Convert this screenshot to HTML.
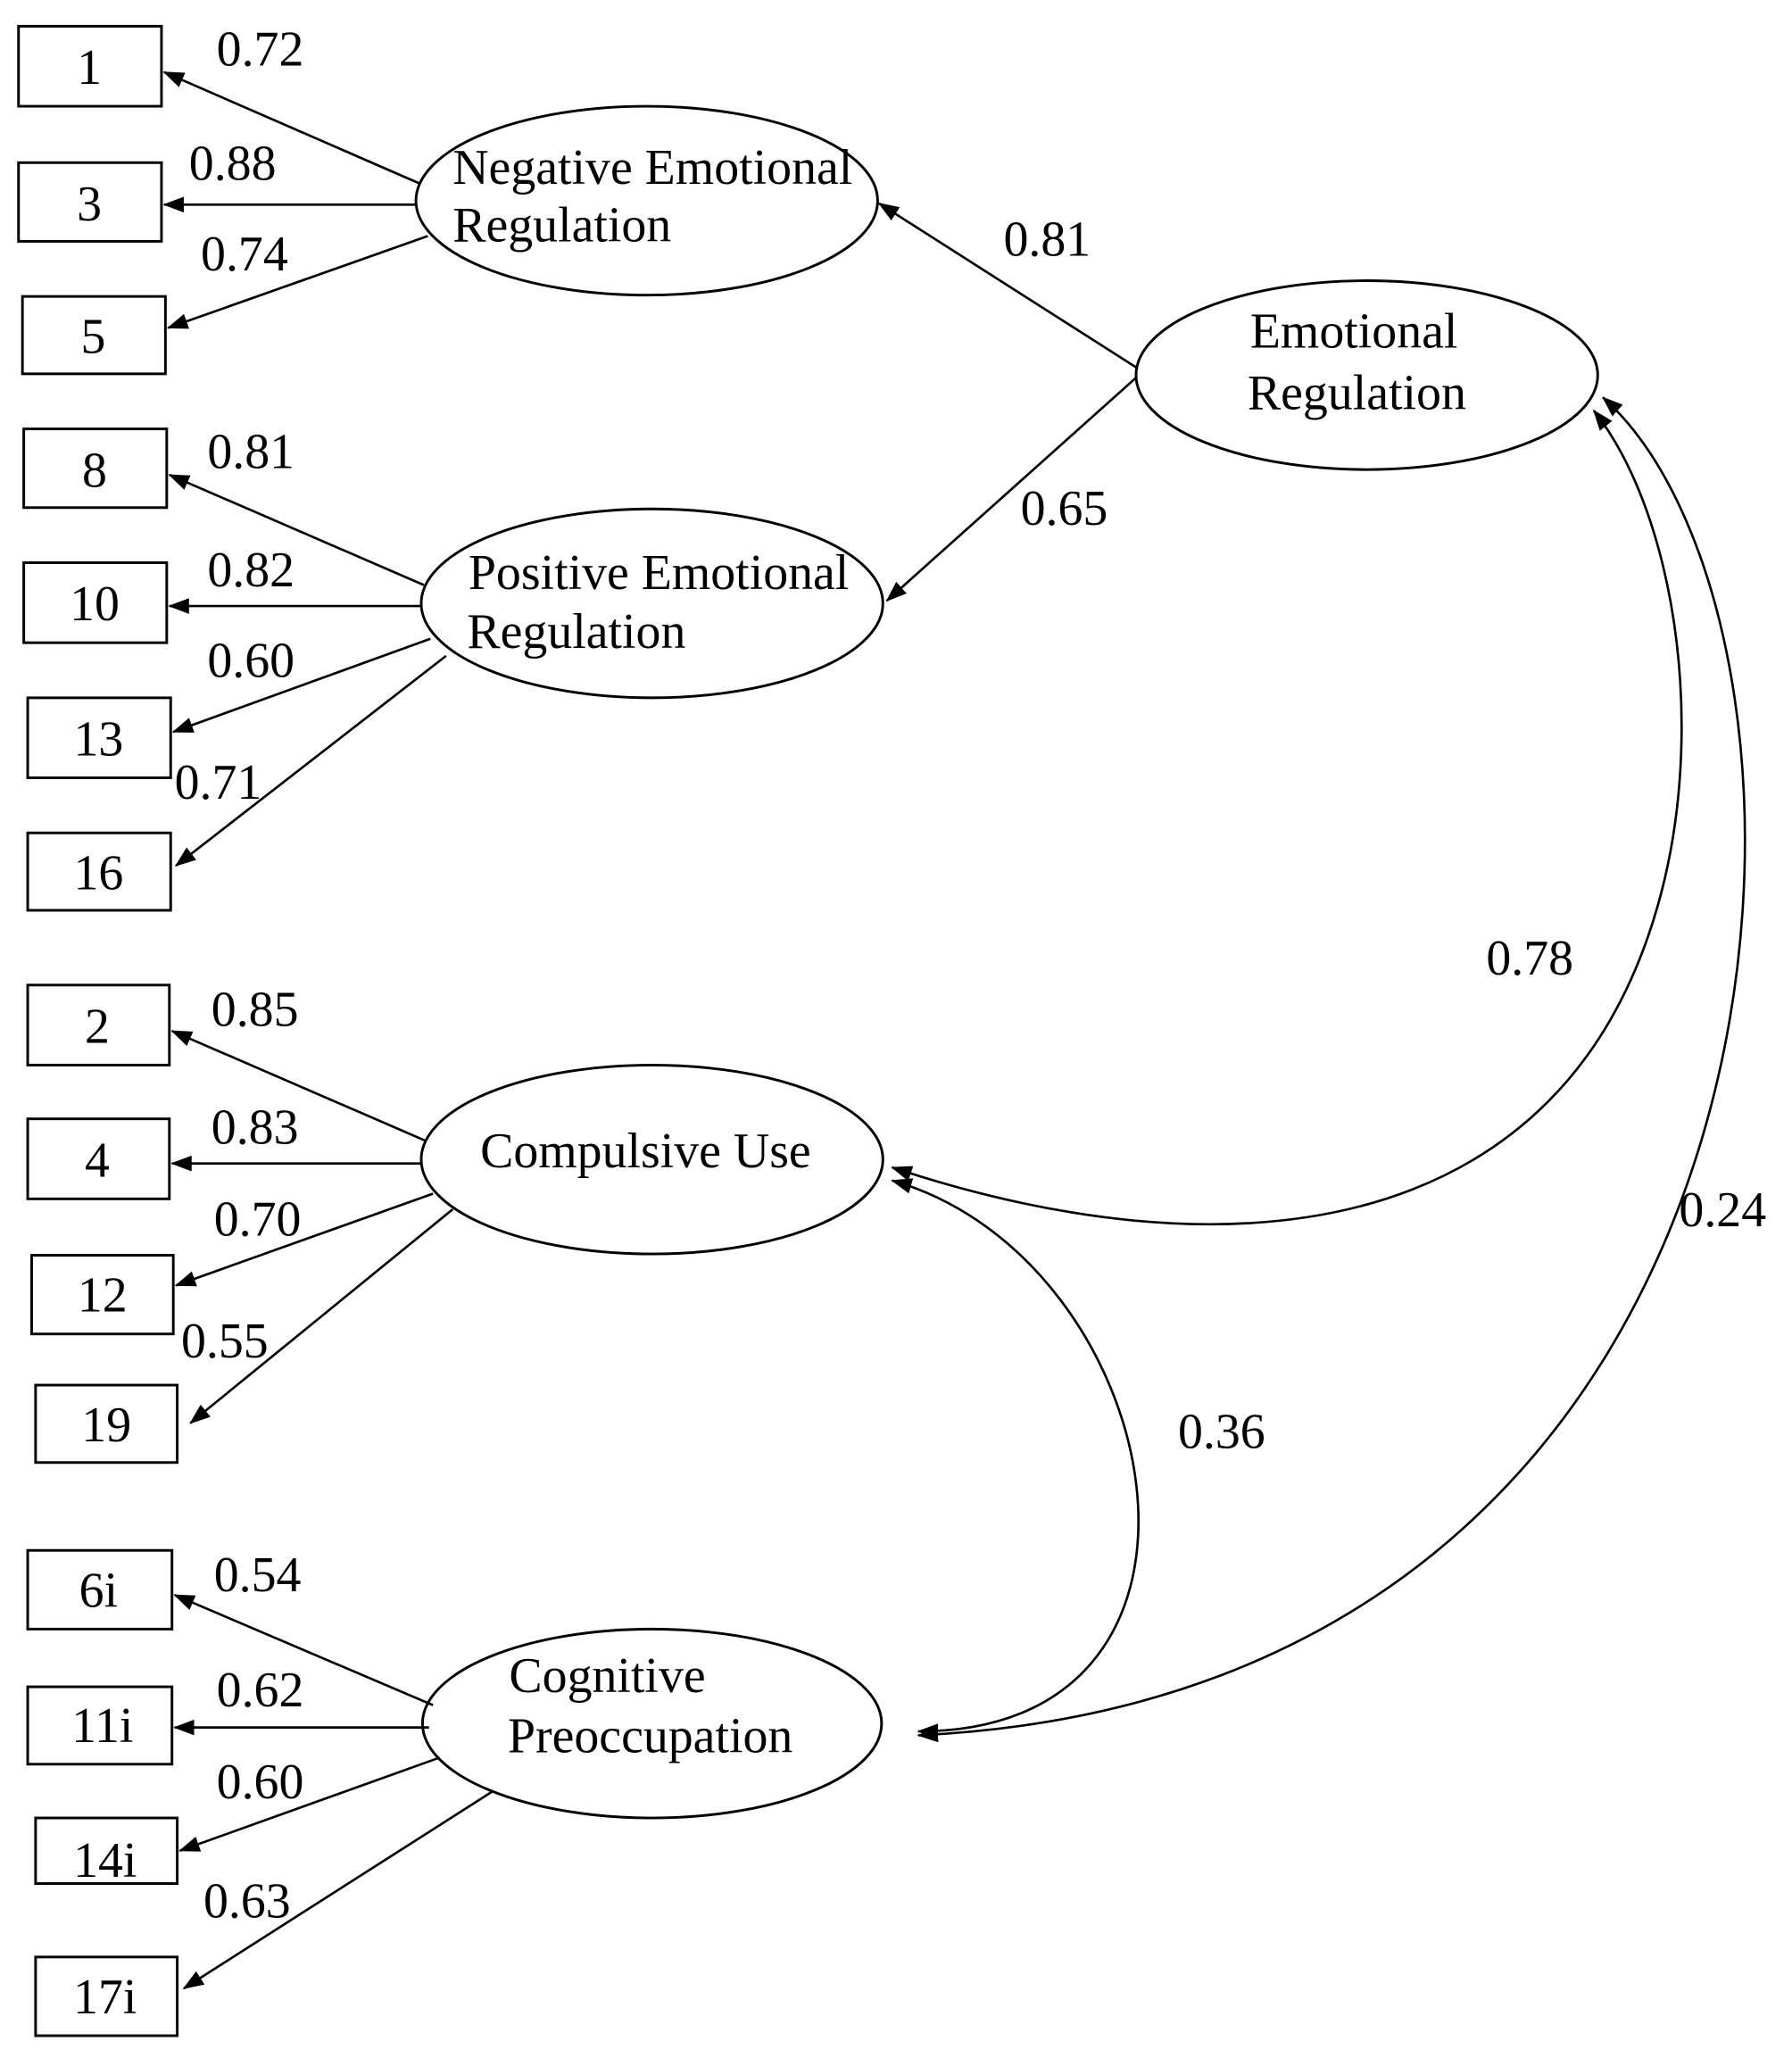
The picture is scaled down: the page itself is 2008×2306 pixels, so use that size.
<!DOCTYPE html>
<html><head><style>html,body{margin:0;padding:0;background:#fff}svg{display:block}</style></head>
<body>
<svg width="2008" height="2306" viewBox="0 0 1366 1569" xmlns="http://www.w3.org/2000/svg" font-family="'Liberation Serif', serif" font-size="38" fill="none" stroke="#000">
<defs>
<marker id="b" viewBox="0 0 16 12" refX="15" refY="6" markerWidth="16" markerHeight="12" orient="auto-start-reverse" markerUnits="userSpaceOnUse"><path d="M0,0 L16,6 L0,12 z" fill="#000" stroke="none"/></marker></defs>
<g stroke-width="2">
<rect x="14" y="20" width="109" height="61"/>
<rect x="14" y="124" width="109" height="60"/>
<rect x="17" y="226" width="109" height="59"/>
<rect x="18" y="327" width="109" height="60"/>
<rect x="18" y="429" width="109" height="61"/>
<rect x="21" y="532" width="109" height="61"/>
<rect x="21" y="635" width="109" height="59"/>
<rect x="21" y="751" width="108" height="61"/>
<rect x="21" y="853" width="108" height="61"/>
<rect x="24" y="957" width="108" height="60"/>
<rect x="27" y="1056" width="108" height="59"/>
<rect x="21" y="1182" width="110" height="60"/>
<rect x="21" y="1286" width="110" height="59"/>
<rect x="27" y="1386" width="108" height="50"/>
<rect x="27" y="1492" width="108" height="60"/>
<ellipse cx="493" cy="153" rx="176" ry="72"/>
<ellipse cx="1042" cy="286" rx="176" ry="72"/>
<ellipse cx="497" cy="460" rx="176" ry="72"/>
<ellipse cx="497" cy="884" rx="176" ry="72"/>
<ellipse cx="497" cy="1314" rx="175" ry="72"/>
</g>
<g stroke-width="1.8" marker-end="url(#b)">
<line x1="320" y1="140" x2="125" y2="55"/>
<line x1="318" y1="156" x2="125" y2="156"/>
<line x1="326" y1="180" x2="128" y2="250"/>
<line x1="323" y1="446" x2="129" y2="362"/>
<line x1="322" y1="462" x2="129" y2="462"/>
<line x1="328" y1="487" x2="132" y2="558"/>
<line x1="340" y1="500" x2="134" y2="660"/>
<line x1="325" y1="870" x2="131" y2="786"/>
<line x1="322" y1="887" x2="131" y2="887"/>
<line x1="330" y1="910" x2="134" y2="980"/>
<line x1="345" y1="922" x2="145" y2="1085"/>
<line x1="330" y1="1300" x2="133" y2="1216"/>
<line x1="327" y1="1317" x2="133" y2="1317"/>
<line x1="335" y1="1340" x2="137" y2="1411"/>
<line x1="375" y1="1366" x2="140" y2="1516"/>
<line x1="866" y1="280" x2="670" y2="155"/>
<line x1="866" y1="288" x2="676" y2="458"/>
</g>
<g stroke-width="1.8" marker-end="url(#b)" marker-start="url(#b)">
<path d="M1215,313 C1300,420 1320,700 1180,840 C1060,960 860,950 680,890"/>
<path d="M1222,303 C1420,480 1400,1290 700,1323"/>
<path d="M680,900 C890,960 960,1320 700,1320"/>
</g>
<g fill="#000" stroke="none">
<text x="68" y="64" text-anchor="middle">1</text>
<text x="68" y="168" text-anchor="middle">3</text>
<text x="71" y="269" text-anchor="middle">5</text>
<text x="72" y="371" text-anchor="middle">8</text>
<text x="72" y="473" text-anchor="middle">10</text>
<text x="75" y="576" text-anchor="middle">13</text>
<text x="75" y="678" text-anchor="middle">16</text>
<text x="74" y="795" text-anchor="middle">2</text>
<text x="74" y="897" text-anchor="middle">4</text>
<text x="78" y="1000" text-anchor="middle">12</text>
<text x="81" y="1099" text-anchor="middle">19</text>
<text x="75" y="1225" text-anchor="middle">6i</text>
<text x="78" y="1328" text-anchor="middle">11i</text>
<text x="80" y="1431" text-anchor="middle">14i</text>
<text x="80" y="1535" text-anchor="middle">17i</text>
<text x="345" y="140">Negative Emotional</text>
<text x="345" y="184">Regulation</text>
<text x="953" y="265">Emotional</text>
<text x="951" y="312">Regulation</text>
<text x="357" y="449">Positive Emotional</text>
<text x="356" y="494">Regulation</text>
<text x="366" y="890">Compulsive Use</text>
<text x="388" y="1290">Cognitive</text>
<text x="387" y="1336">Preoccupation</text>
<text x="165" y="50">0.72</text>
<text x="144" y="137">0.88</text>
<text x="153" y="206">0.74</text>
<text x="158" y="357">0.81</text>
<text x="158" y="447">0.82</text>
<text x="158" y="516">0.60</text>
<text x="133" y="609">0.71</text>
<text x="161" y="782">0.85</text>
<text x="161" y="872">0.83</text>
<text x="163" y="942">0.70</text>
<text x="138" y="1035">0.55</text>
<text x="163" y="1213">0.54</text>
<text x="165" y="1301">0.62</text>
<text x="165" y="1371">0.60</text>
<text x="155" y="1462">0.63</text>
<text x="765" y="195">0.81</text>
<text x="778" y="400">0.65</text>
<text x="1133" y="743">0.78</text>
<text x="1280" y="935">0.24</text>
<text x="898" y="1104">0.36</text>
</g>
</svg>
</body></html>
